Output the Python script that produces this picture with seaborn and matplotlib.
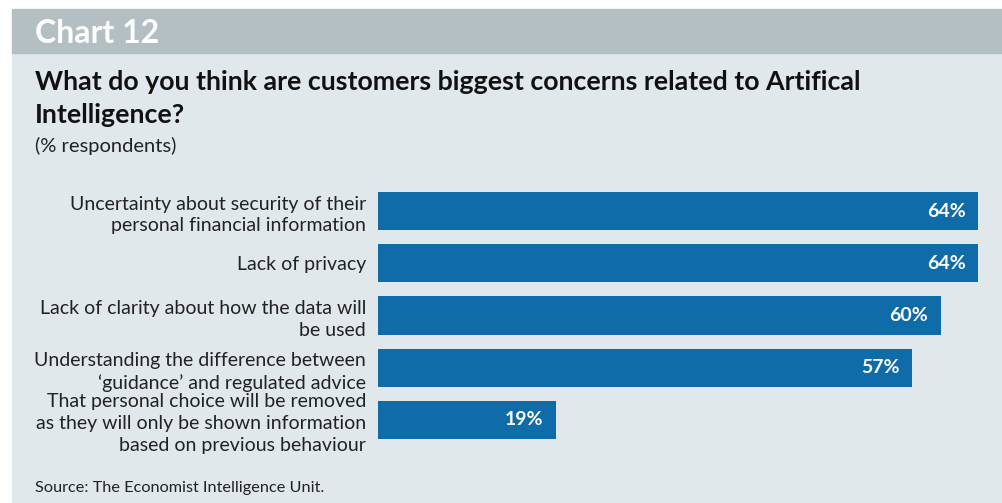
import matplotlib
matplotlib.use("Agg")
import matplotlib.pyplot as plt
import matplotlib.patches as mpatches
import seaborn as sns
import pandas as pd

categories = [
    "Uncertainty about security of their\npersonal financial information",
    "Lack of privacy",
    "Lack of clarity about how the data will\nbe used",
    "Understanding the difference between\n\u2018guidance\u2019 and regulated advice",
    "That personal choice will be removed\nas they will only be shown information\nbased on previous behaviour",
]
values = [64, 64, 60, 57, 19]
value_labels = ["64%", "64%", "60%", "57%", "19%"]

sns.set_theme(style="white")
plt.rcParams['font.family'] = ['Lato', 'DejaVu Sans']

W, H = 1003, 503
fig = plt.figure(figsize=(W / 100, H / 100), dpi=100)
fig.patch.set_facecolor("white")

# background panels
fig.patches.append(mpatches.Rectangle((12 / W, 0), 1 - 12 / W, (H - 53) / H,
                                      transform=fig.transFigure, color="#e0e8eb", zorder=-10))
fig.patches.append(mpatches.Rectangle((12 / W, (H - 53) / H), 1 - 12 / W, 44 / H,
                                      transform=fig.transFigure, color="#b4bfc4", zorder=-10))

fig.text(35 / W, 1 - 33 / H, "Chart 12", color="white", fontsize=23, fontweight="bold",
         va="center", ha="left")
fig.text(35 / W, 1 - 82 / H, "What do you think are customers biggest concerns related to Artifical",
         color="#111111", fontsize=19.3, fontweight="bold", va="center", ha="left")
fig.text(35 / W, 1 - 115 / H, "Intelligence?",
         color="#111111", fontsize=19.3, fontweight="bold", va="center", ha="left")
fig.text(35 / W, 1 - 146 / H, "(% respondents)", color="#222222", fontsize=14.5,
         va="center", ha="left")
fig.text(35 / W, 1 - 488 / H, "Source: The Economist Intelligence Unit.", color="#222222",
         fontsize=11.7, va="center", ha="left")

# axes region: x 378..978, y 185..446
ax = fig.add_axes([378 / W, 1 - 446 / H, 600 / W, 261 / H])
ax.set_facecolor("none")
df = pd.DataFrame({"cat": categories, "val": values})
sns.barplot(data=df, x="val", y="cat", orient="h", color="#0f6ca8", saturation=1,
            width=0.73, linewidth=0, ax=ax)
ax.set_xlim(0, 64)
ax.set_ylim(4.5, -0.5)
ax.set_xlabel("")
ax.set_ylabel("")
ax.set_xticks([])
for s in ax.spines.values():
    s.set_visible(False)
ax.tick_params(axis="y", length=0, pad=8.5)
for lbl in ax.get_yticklabels():
    lbl.set_fontsize(14)
    lbl.set_color("#222222")
    lbl.set_linespacing(1.35)
    lbl.set_ha("right")

for i, (v, t) in enumerate(zip(values, value_labels)):
    ax.annotate(t, xy=(v, i), xytext=(-9, 0), textcoords="offset points",
                ha="right", va="center", color="white", fontsize=14, fontweight="bold")

fig.savefig("out.png", dpi=100)
